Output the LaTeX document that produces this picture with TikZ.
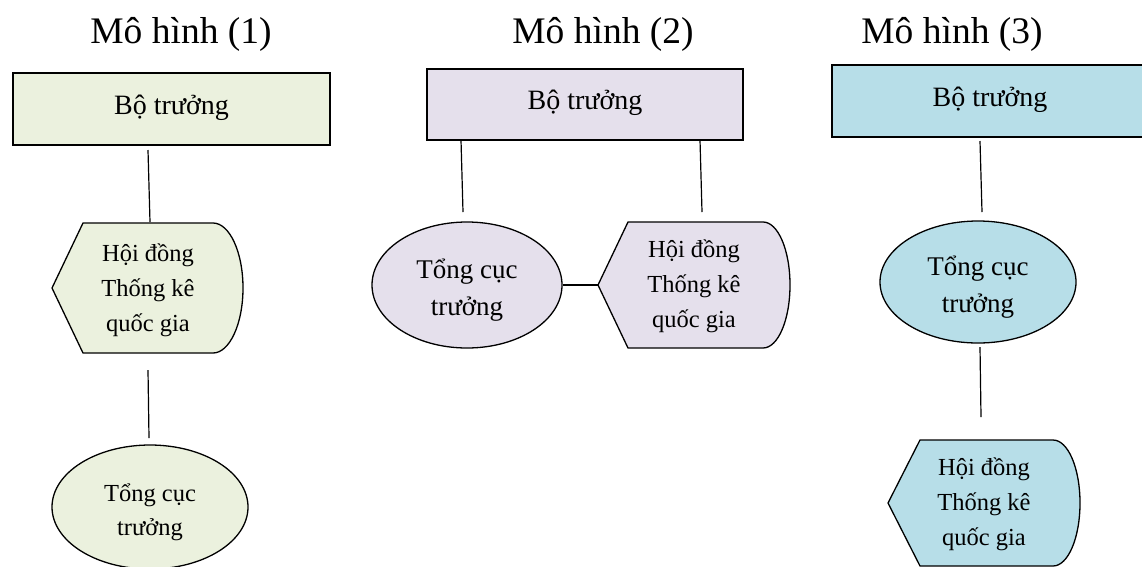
\documentclass[tikz,border=0pt]{standalone}
\usepackage{fontspec}
\setmainfont{Liberation Serif}
\usetikzlibrary{shapes.geometric}
\definecolor{fillA}{RGB}{235,241,222}
\definecolor{fillB}{RGB}{229,224,236}
\definecolor{fillC}{RGB}{183,222,232}
\begin{document}
\begin{tikzpicture}[x=1pt,y=-1pt,
  titletext/.style={anchor=base, font=\fontsize{37.5}{45}\selectfont},
  boxshape/.style={draw, line width=1.5pt, rectangle, inner sep=0pt},
  boxtext/.style={anchor=base, font=\fontsize{28}{34}\selectfont},
  ellshape/.style={draw, ellipse, line width=1.3pt, inner sep=0pt},
  elltext/.style={align=center, font=\fontsize{27}{36.5}\selectfont},
  dispshape/.style={draw, line width=1.3pt, line join=miter},
  disptext/.style={align=center, font=\fontsize{24.5}{35}\selectfont},
  conn/.style={line width=1.2pt}]
\useasboundingbox (0,0) rectangle (1142,566);

% titles
\node[titletext] (t1) at (181,43) {Mô hình (1)};
\node[titletext] (t2) at (603,43) {Mô hình (2)};
\node[titletext] (t3) at (952,43) {Mô hình (3)};

% ---------- Model 1 ----------
\node[boxshape, fill=fillA, minimum width=317pt, minimum height=72pt] (b1) at (171.5,109) {};
\node[boxtext] (bt1) at (171.5,114) {Bộ trưởng};
\draw[dispshape, fill=fillA] (52,288) -- (83,223) -- (213,223)
  .. controls (229.5,223) and (243,252) .. (243,288)
  .. controls (243,324) and (229.5,353) .. (213,353) -- (83,353) -- cycle;
\node[disptext] (d1) at (148,290) {Hội đồng\\Thống kê\\quốc gia};
\node[ellshape, fill=fillA, minimum width=196pt, minimum height=124pt] (e1) at (150,507) {};
\node[elltext, font=\fontsize{24.5}{34}\selectfont] (et1) at (150,512) {Tổng cục\\trưởng};
\coordinate (c1a) at (148,150); \coordinate (c1b) at (150,222);
\coordinate (c1c) at (148,370); \coordinate (c1d) at (149,438);
\draw[conn] (c1a) -- (c1b);
\draw[conn] (c1c) -- (c1d);

% ---------- Model 2 ----------
\node[boxshape, fill=fillB, minimum width=316pt, minimum height=71pt] (b2) at (585,104.5) {};
\node[boxtext] (bt2) at (585,109.5) {Bộ trưởng};
\node[ellshape, fill=fillB, minimum width=190pt, minimum height=126pt] (e2) at (467,285) {};
\node[elltext] (et2) at (467,290) {Tổng cục\\trưởng};
\draw[dispshape, fill=fillB] (598,285) -- (628,222) -- (763,222)
  .. controls (778,222) and (790,250) .. (790,285)
  .. controls (790,320) and (778,348) .. (763,348) -- (628,348) -- cycle;
\node[disptext] (d2) at (694,286) {Hội đồng\\Thống kê\\quốc gia};
\coordinate (d2w) at (598,285);
\coordinate (c2a) at (461,140); \coordinate (c2b) at (463,212);
\coordinate (c2c) at (700,140); \coordinate (c2d) at (702,212);
\draw[conn] (c2a) -- (c2b);
\draw[conn] (c2c) -- (c2d);
\draw[conn] (e2.east) -- (d2w);

% ---------- Model 3 ----------
\node[boxshape, fill=fillC, minimum width=316pt, minimum height=72pt] (b3) at (990,101) {};
\node[boxtext] (bt3) at (990,106) {Bộ trưởng};
\node[ellshape, fill=fillC, minimum width=196pt, minimum height=122pt] (e3) at (978,282) {};
\node[elltext] (et3) at (978,287) {Tổng cục\\trưởng};
\draw[dispshape, fill=fillC] (888,503) -- (920,440) -- (1053,440)
  .. controls (1068,440) and (1080,468) .. (1080,503)
  .. controls (1080,538) and (1068,566) .. (1053,566) -- (920,566) -- cycle;
\node[disptext] (d3) at (984,504) {Hội đồng\\Thống kê\\quốc gia};
\coordinate (c3a) at (980,141); \coordinate (c3b) at (982,212);
\coordinate (c3c) at (980,347); \coordinate (c3d) at (981,417);
\draw[conn] (c3a) -- (c3b);
\draw[conn] (c3c) -- (c3d);
\end{tikzpicture}
\end{document}
